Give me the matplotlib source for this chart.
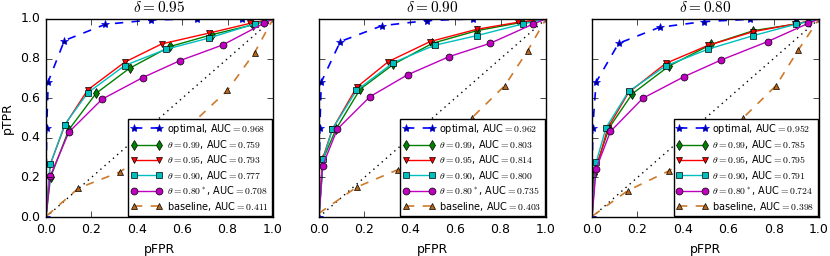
import numpy as np
import matplotlib
matplotlib.use('Agg')
import matplotlib.pyplot as plt

plt.style.use('classic')
plt.rcParams['mathtext.fontset'] = 'cm'

deltas = ['0.95', '0.90', '0.80']
thetas = ['0.99', '0.95', '0.90', '0.80^*']

# marker points: (fpr, tpr)
optimal_fpr = [
    [0.0, 0.003, 0.01, 0.081, 0.262, 0.463, 0.665, 0.865, 1.0],
    [0.0, 0.004, 0.01, 0.094, 0.278, 0.478, 0.678, 0.876, 1.0],
    [0.0, 0.003, 0.018, 0.117, 0.298, 0.494, 0.696, 0.899, 1.0],
]
optimal_tpr = [
    [0.0, 0.45, 0.684, 0.891, 0.973, 0.995, 1.0, 1.0, 1.0],
    [0.0, 0.449, 0.681, 0.886, 0.966, 0.992, 1.0, 1.0, 1.0],
    [0.0, 0.452, 0.681, 0.877, 0.958, 0.987, 0.998, 1.0, 1.0],
]

# theta = 0.99
t99_fpr = [
    [0.0, 0.02, 0.10, 0.221, 0.368, 0.547, 0.732, 0.91, 1.0],
    [0.0, 0.019, 0.075, 0.181, 0.328, 0.50, 0.696, 0.894, 1.0],
    [0.0, 0.007, 0.076, 0.177, 0.34, 0.526, 0.711, 0.902, 1.0],
]
t99_tpr = [
    [0.0, 0.20, 0.44, 0.625, 0.751, 0.861, 0.921, 0.97, 1.0],
    [0.0, 0.294, 0.444, 0.645, 0.771, 0.877, 0.941, 0.983, 1.0],
    [0.0, 0.218, 0.452, 0.622, 0.763, 0.872, 0.941, 0.975, 1.0],
]

# theta = 0.95
t95_fpr = [
    [0.0, 0.018, 0.084, 0.184, 0.347, 0.51, 0.716, 0.90, 1.0],
    [0.0, 0.016, 0.059, 0.166, 0.306, 0.49, 0.696, 0.876, 1.0],
    [0.0, 0.013, 0.069, 0.161, 0.325, 0.51, 0.711, 0.896, 1.0],
]
t95_tpr = [
    [0.0, 0.264, 0.466, 0.642, 0.782, 0.874, 0.928, 0.978, 1.0],
    [0.0, 0.294, 0.444, 0.655, 0.785, 0.886, 0.948, 0.983, 1.0],
    [0.0, 0.222, 0.449, 0.629, 0.776, 0.866, 0.936, 0.975, 1.0],
]

# theta = 0.90
t90_fpr = [
    [0.0, 0.019, 0.082, 0.184, 0.347, 0.529, 0.716, 0.919, 1.0],
    [0.0, 0.019, 0.059, 0.165, 0.328, 0.509, 0.696, 0.899, 1.0],
    [0.0, 0.018, 0.062, 0.161, 0.325, 0.51, 0.711, 0.897, 1.0],
]
t90_tpr = [
    [0.0, 0.266, 0.466, 0.627, 0.765, 0.847, 0.903, 0.975, 1.0],
    [0.0, 0.294, 0.444, 0.639, 0.780, 0.867, 0.916, 0.975, 1.0],
    [0.0, 0.276, 0.452, 0.634, 0.763, 0.847, 0.916, 0.973, 1.0],
]

# theta = 0.80*
t80_fpr = [
    [0.0, 0.018, 0.101, 0.247, 0.426, 0.591, 0.779, 0.96, 1.0],
    [0.0, 0.016, 0.081, 0.225, 0.39, 0.574, 0.754, 0.941, 1.0],
    [0.0, 0.018, 0.081, 0.224, 0.406, 0.569, 0.774, 0.953, 1.0],
]
t80_tpr = [
    [0.0, 0.205, 0.429, 0.595, 0.704, 0.790, 0.869, 0.978, 1.0],
    [0.0, 0.259, 0.444, 0.608, 0.718, 0.810, 0.877, 0.973, 1.0],
    [0.0, 0.244, 0.432, 0.60, 0.709, 0.793, 0.886, 0.978, 1.0],
]

baseline_fpr = [
    [0.004, 0.143, 0.324, 0.49, 0.653, 0.799, 0.919, 1.0],
    [0.001, 0.166, 0.347, 0.51, 0.672, 0.819, 0.919, 1.0],
    [0.004, 0.158, 0.34, 0.50, 0.664, 0.811, 0.909, 1.0],
]
baseline_tpr = [
    [0.007, 0.146, 0.227, 0.35, 0.482, 0.639, 0.830, 1.0],
    [0.02, 0.151, 0.239, 0.36, 0.499, 0.664, 0.839, 1.0],
    [0.007, 0.134, 0.234, 0.36, 0.499, 0.664, 0.844, 1.0],
]

auc_optimal = ['0.968', '0.962', '0.952']
auc_theta = [
    ['0.759', '0.793', '0.777', '0.708'],
    ['0.803', '0.814', '0.800', '0.735'],
    ['0.785', '0.795', '0.791', '0.724'],
]
auc_baseline = ['0.411', '0.403', '0.398']

theta_styles = [
    ('g', 'd'),
    ('r', 'v'),
    ('c', 's'),
    ('m', 'o'),
]
base_color = '#cc7a2c'

fig = plt.figure(figsize=(8.3, 2.56), dpi=100)
lefts = [0.0554, 0.3843, 0.7133]

for i, delta in enumerate(deltas):
    ax = fig.add_axes([lefts[i], 0.152, 0.2735, 0.774])
    ax.plot([0, 1], [0, 1], 'k:', lw=1)
    ax.plot(optimal_fpr[i], optimal_tpr[i], 'b--', marker='*', ms=6,
            mfc='#000080', mec='b', lw=1.2,
            label=r'optimal, AUC$=%s$' % auc_optimal[i])
    series = [(t99_fpr, t99_tpr), (t95_fpr, t95_tpr),
              (t90_fpr, t90_tpr), (t80_fpr, t80_tpr)]
    for j, (fx, fy) in enumerate(series):
        c, m = theta_styles[j]
        ax.plot(fx[i], fy[i], '-', color=c, marker=m, ms=5, lw=1.0,
                markevery=list(range(1, len(fx[i]) - 1)),
                label=r'$\theta=%s$, AUC$=%s$' % (thetas[j], auc_theta[i][j]))
    ax.plot(baseline_fpr[i], baseline_tpr[i], '--', color=base_color,
            marker='^', ms=5, mfc='#b8661a', lw=1.2,
            markevery=list(range(1, len(baseline_fpr[i]) - 1)),
            label=r'baseline, AUC$=%s$' % auc_baseline[i])

    ax.set_xlim(0, 1)
    ax.set_ylim(0, 1)
    ax.set_xticks(np.arange(0, 1.01, 0.2))
    ax.set_yticks(np.arange(0, 1.01, 0.2))
    ax.tick_params(labelsize=9)
    ax.set_title(r'$\delta=%s$' % delta, fontsize=11)
    ax.set_xlabel('pFPR', fontsize=9)
    if i == 0:
        ax.set_ylabel('pTPR', fontsize=9)
    else:
        ax.set_yticklabels([])
    ax.legend(loc='lower right', fontsize=7, numpoints=2,
              handlelength=3.2, borderpad=0.3, labelspacing=0.25,
              handletextpad=0.5, borderaxespad=0.15)

fig.savefig('out.png', dpi=100)
